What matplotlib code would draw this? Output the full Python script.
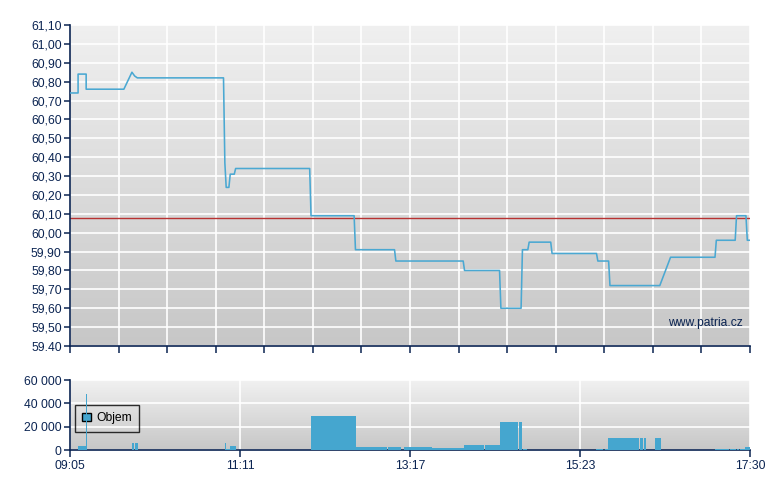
import matplotlib
matplotlib.use("Agg")
import matplotlib.pyplot as plt
import matplotlib.patches as mpatches
import numpy as np

plt.rcParams['font.family'] = ['Liberation Sans', 'DejaVu Sans']

# --- data -------------------------------------------------------------
open_time = "09:05"
close_time = "17:30"
prev_close = 60.08

# trades (time, price)
price_times = ["09:05", "09:11", "09:11", "09:17", "09:17", "09:45", "09:51",
               "09:53", "09:55", "10:59", "11:00", "11:01", "11:03", "11:04",
               "11:07", "11:08", "12:03", "12:04", "12:36", "12:37", "13:06",
               "13:07", "13:57", "13:58", "14:24", "14:25", "14:40", "14:41",
               "14:45", "14:46", "15:02", "15:03", "15:36", "15:37", "15:45",
               "15:46", "16:23", "16:31", "17:04", "17:05", "17:19", "17:20",
               "17:27", "17:28", "17:30"]
prices = [60.74, 60.74, 60.84, 60.84, 60.76, 60.76, 60.85,
          60.83, 60.82, 60.82, 60.37, 60.24, 60.24, 60.31,
          60.31, 60.34, 60.34, 60.09, 60.09, 59.91, 59.91,
          59.85, 59.85, 59.80, 59.80, 59.60, 59.60, 59.91,
          59.91, 59.95, 59.95, 59.89, 59.89, 59.85, 59.85,
          59.72, 59.72, 59.87, 59.87, 59.96, 59.96, 60.09,
          60.09, 59.96, 59.96]

# volume blocks: start / end in minutes after the open, volume
vol_start = [5.9, 12.1, 46.0, 48.3, 115.1, 115.3, 118.8, 179.0, 212.4,
             236.1, 248.0, 268.8, 292.6, 308.2, 319.3, 333.4, 336.4,
             390.6, 397.3, 399.5, 423.3, 426.3, 434.4, 479.0, 490.1,
             495.3, 497.5, 501.2]
vol_end = [12.1, 12.7, 47.5, 50.5, 118.8, 115.8, 123.3, 212.4, 235.4,
           245.8, 268.8, 292.6, 307.4, 319.3, 332.7, 335.7, 339.4,
           395.8, 399.5, 422.5, 425.5, 427.7, 438.9, 489.4, 494.6,
           496.8, 501.2, 505.0]
vol_values = [3400, 48000, 6300, 6300, 900, 6300, 3400, 29400, 2600,
              2600, 2600, 1700, 4300, 4300, 24000, 24000, 900,
              900, 900, 10300, 10300, 10300, 10300, 900, 900,
              900, 900, 2600]

vol_ticks = [0, 20000, 40000, 60000]
vol_ticklabels = ["0", "20 000", "40 000", "60 000"]
time_labels = ["09:05", "11:11", "13:17", "15:23", "17:30"]


def minutes(s):
    h, m = s.split(":")
    return int(h) * 60 + int(m)


t0 = minutes(open_time)
t_end = minutes(close_time) - t0
px = np.array([minutes(s) - t0 for s in price_times], dtype=float)

navy = '#0b2452'
blue = '#45a6cf'
fs = 8.7

fig = plt.figure(figsize=(7.8, 4.9), dpi=100)
ax = fig.add_axes([70 / 780, 1 - 346 / 490, 680 / 780, 321 / 490])
axv = fig.add_axes([70 / 780, 1 - 450 / 490, 680 / 780, 70 / 490])


def gradient(a, top, bottom):
    g = np.linspace(top, bottom, 256).reshape(-1, 1)
    a.imshow(np.dstack([g, g, g]), extent=[0, 1, 0, 1], transform=a.transAxes,
             aspect='auto', zorder=0, interpolation='bicubic')


def style(a):
    a.set_axisbelow(True)
    a.grid(True, color='white', lw=1.2)
    for s in ['top', 'right']:
        a.spines[s].set_visible(False)
    for s in ['left', 'bottom']:
        a.spines[s].set_color(navy)
        a.spines[s].set_linewidth(1.2)
    a.tick_params(colors=navy, labelcolor=navy, labelsize=fs, width=1.1)


# --- price panel -------------------------------------------------------
gradient(ax, 0.94, 0.78)
style(ax)
ax.plot(px, prices, color='#4aa8d2', lw=1.15, zorder=3)
ax.axhline(prev_close, color='#b83232', lw=1, zorder=2)
ax.set_xlim(0, t_end)
ax.set_ylim(59.40, 61.10)
yt = np.round(np.arange(59.40, 61.101, 0.10), 2)
ax.set_yticks(yt)
ylabels = ["{:.2f}".format(v).replace('.', ',') for v in yt]
ylabels[0] = "{:.2f}".format(yt[0])
ax.set_yticklabels(ylabels)
ax.set_xticks(np.linspace(0, t_end, 15))
ax.set_xticklabels([])
ax.tick_params(axis='y', length=4, pad=2)
ax.tick_params(axis='x', length=5)
ax.text(0.99, 0.072, "www.patria.cz", transform=ax.transAxes, ha='right',
        va='center', fontsize=fs, color=navy, zorder=4)

# --- volume panel ------------------------------------------------------
gradient(axv, 0.945, 0.78)
style(axv)
vs = np.array(vol_start)
ve = np.array(vol_end)
axv.bar(vs, vol_values, width=ve - vs, align='edge', color=blue,
        edgecolor='none', zorder=3)
axv.set_xlim(0, t_end)
axv.set_ylim(0, 60000)
axv.set_yticks(vol_ticks)
axv.set_yticklabels(vol_ticklabels)
axv.set_xticks(np.linspace(0, t_end, 5))
axv.set_xticklabels(time_labels)
axv.tick_params(axis='y', length=4, pad=2)
axv.tick_params(axis='x', length=5, pad=2)
handle = mpatches.Patch(facecolor=blue, edgecolor='black', lw=1)
leg = axv.legend([handle], ["Objem"], loc='upper left',
                 bbox_to_anchor=(5 / 680, 1 - 25 / 70), frameon=True,
                 fancybox=False, fontsize=fs, handlelength=0.75,
                 handleheight=0.75, handletextpad=0.4, borderpad=0.6,
                 borderaxespad=0)
leg.get_frame().set_facecolor('none')
leg.get_frame().set_edgecolor('black')
leg.get_frame().set_linewidth(1)
leg.set_zorder(2)

fig.savefig("out.png", dpi=100)
